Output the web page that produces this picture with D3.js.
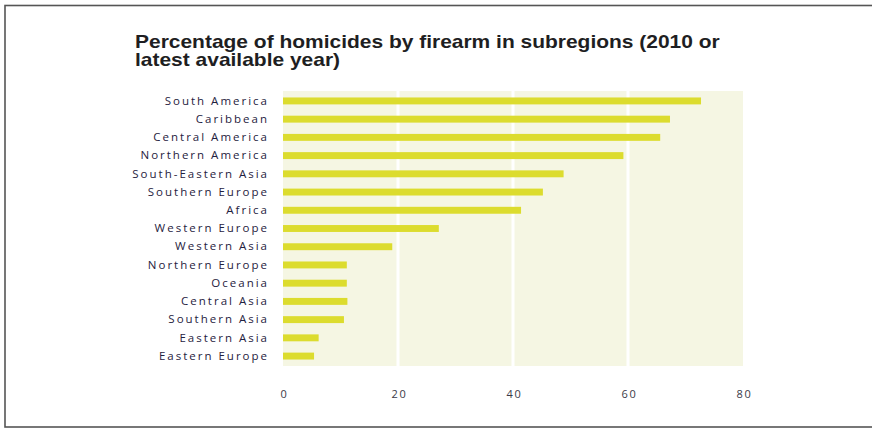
<!DOCTYPE html>
<html>
<head>
<meta charset="utf-8">
<script src="https://cdn.jsdelivr.net/npm/d3@7"></script>
<style>
  body { margin: 0; background: #fff; }
  svg { display: block; }
</style>
</head>
<body>
<div id="chart"></div>
<script>
// Subregions, top to bottom
const regions = [
  "South America", "Caribbean", "Central America", "Northern America",
  "South-Eastern Asia", "Southern Europe", "Africa", "Western Europe",
  "Western Asia", "Northern Europe", "Oceania", "Central Asia",
  "Southern Asia", "Eastern Asia", "Eastern Europe"
];
// Percentage of homicides by firearm
const shares = [72.7, 67.3, 65.6, 59.2, 48.8, 45.2, 41.4, 27.1, 19.0, 11.1, 11.1, 11.2, 10.6, 6.2, 5.4];
const xTicks = [0, 20, 40, 60, 80];

const width = 872, height = 428;
const plot = { left: 283, right: 743, top: 91, bottom: 366 };

const svg = d3.select("#chart").append("svg")
  .attr("width", width)
  .attr("height", height);

// outer frame
svg.append("rect")
  .attr("x", 5).attr("y", 5.5)
  .attr("width", 880).attr("height", 421.5)
  .attr("fill", "none")
  .attr("stroke", "#555")
  .attr("stroke-width", 1.6);

// title (the original type is set a bit wide, so stretch it horizontally)
const title = svg.append("text")
  .attr("transform", "translate(135,47.5) scale(1.165,1)")
  .style("font-family", "'Liberation Sans', Arial, sans-serif")
  .style("font-weight", "bold")
  .style("font-size", "18px")
  .attr("fill", "#1e1e22");
title.append("tspan").attr("x", 0).attr("y", 0)
  .text("Percentage of homicides by firearm in subregions (2010 or");
title.append("tspan").attr("x", 0).attr("y", 19)
  .text("latest available year)");

const data = regions.map((r, i) => ({ region: r, value: shares[i] }));

const x = d3.scaleLinear().domain([0, 80]).range([plot.left, plot.right]);
const y = d3.scaleBand().domain(regions)
  .range([plot.top + 1, plot.bottom - 1])
  .paddingInner(0.62).paddingOuter(0.3);

// background panel
svg.append("rect")
  .attr("x", x(0)).attr("y", plot.top)
  .attr("width", x(80) - x(0)).attr("height", plot.bottom - plot.top)
  .attr("fill", "#f5f6e3");

// white gridlines
svg.append("g").selectAll("line")
  .data(xTicks.filter(t => t > 0 && t < 80))
  .join("line")
  .attr("x1", d => x(d)).attr("x2", d => x(d))
  .attr("y1", plot.top).attr("y2", plot.bottom)
  .attr("stroke", "#fff").attr("stroke-width", 3);

// bars
svg.append("g").selectAll("rect")
  .data(data)
  .join("rect")
  .attr("x", x(0))
  .attr("y", d => y(d.region))
  .attr("width", d => x(d.value) - x(0))
  .attr("height", y.bandwidth())
  .attr("fill", "#dcdc2e");

// category labels
const yAxis = svg.append("g")
  .attr("transform", `translate(${plot.left - 14},0)`)
  .call(d3.axisLeft(y).tickSize(0).tickPadding(0));
yAxis.select(".domain").remove();
yAxis.selectAll("text")
  .style("font-family", "'Open Sans', 'Noto Sans', sans-serif")
  .style("font-size", "11.5px")
  .style("letter-spacing", "2px")
  .attr("fill", "#1f2240");

// value axis labels
const xAxis = svg.append("g")
  .attr("transform", `translate(1,${plot.bottom + 24})`)
  .call(d3.axisBottom(x).tickValues(xTicks).tickSize(0).tickPadding(0));
xAxis.select(".domain").remove();
xAxis.selectAll("text")
  .style("font-family", "'Open Sans', 'Noto Sans', sans-serif")
  .style("font-size", "11px")
  .style("letter-spacing", "1.6px")
  .attr("fill", "#3a3a48");
</script>
</body>
</html>
